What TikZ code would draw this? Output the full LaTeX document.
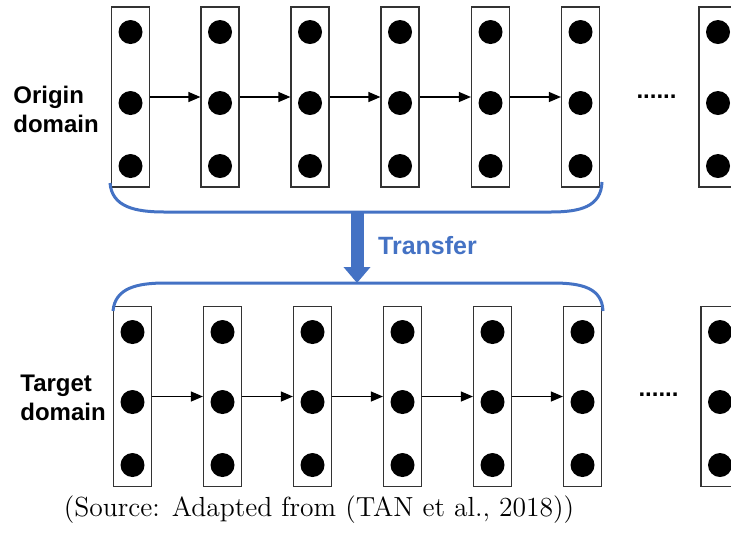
\documentclass[tikz,border=0pt]{standalone}
\usepackage{fontspec}
\usepackage{tikz}
\usetikzlibrary{arrows.meta}
\newfontfamily\arialfont{Liberation Sans}
\definecolor{xferblue}{HTML}{4472C4}

\begin{document}
\begin{tikzpicture}[x=0.5pt, y=-0.5pt,
    layer/.style={draw=black!80, line width=0.6pt, minimum width=19pt, minimum height=90pt, inner sep=0pt},
    flow/.style={-{Triangle[length=6pt,width=5pt]}, line width=0.6pt},
    brace/.style={xferblue, line width=1.5pt},
    xfer/.style={xferblue, line width=6.5pt, -{Triangle[length=8pt,width=13pt]}},
    lbl/.style={font=\arialfont\bfseries\fontsize{12}{14.5}\selectfont, align=left, anchor=west, inner sep=0pt},
    more/.style={font=\arialfont\bfseries\fontsize{12}{14}\selectfont, inner sep=0pt}]
    \useasboundingbox (0,0) rectangle (731,538);

    % origin domain
    \foreach \i/\x in {1/130.5, 2/220, 3/310, 4/400, 5/490.5, 6/580.5, 7/718} {
        \node[layer] (o\i) at (\x,97) {};
        \foreach \dy in {-65,6,69}
            \fill (\x,97+\dy) circle (6pt);
    }
    \foreach \i [count=\j from 2] in {1,...,5}
        \draw[flow] (o\i) -- (o\j);
    \node[lbl] (olbl) at (13,109) {Origin\\domain};
    \node[more] (omore) at (656.5,97) {......};

    % target domain
    \foreach \i/\x in {1/132.5, 2/222.5, 3/312.5, 4/402.5, 5/492.5, 6/582.5, 7/720} {
        \node[layer] (t\i) at (\x,396.5) {};
        \foreach \dy in {-64.5,5.5,68.5}
            \fill (\x,396.5+\dy) circle (6pt);
    }
    \foreach \i [count=\j from 2] in {1,...,5}
        \draw[flow] (t\i) -- (t\j);
    \node[lbl] (tlbl) at (20,398) {Target\\domain};
    \node[more] (tmore) at (658.5,395) {......};

    % braces and transfer arrow
    \draw[brace] (110,183) .. controls (112,207) and (135,212) .. (165,212)
        -- (550,212) .. controls (580,212) and (601,207) .. (602,182);
    \draw[brace] (113,311) .. controls (115,288) and (137,283) .. (165,283)
        -- (553,283) .. controls (582,283) and (602,288) .. (603,311);
    \coordinate (xtop) at (357,212);
    \coordinate (xbot) at (357,283);
    \draw[xfer] (xtop) -- (xbot);
    \node[font=\arialfont\bfseries\fontsize{12.5}{15}\selectfont, text=xferblue] (xlbl) at (427.5,246) {Transfer};

    \node (src) at (319,510) {\fontsize{13.8}{16}\selectfont (Source: Adapted from (TAN et al., 2018))};
\end{tikzpicture}
\end{document}
